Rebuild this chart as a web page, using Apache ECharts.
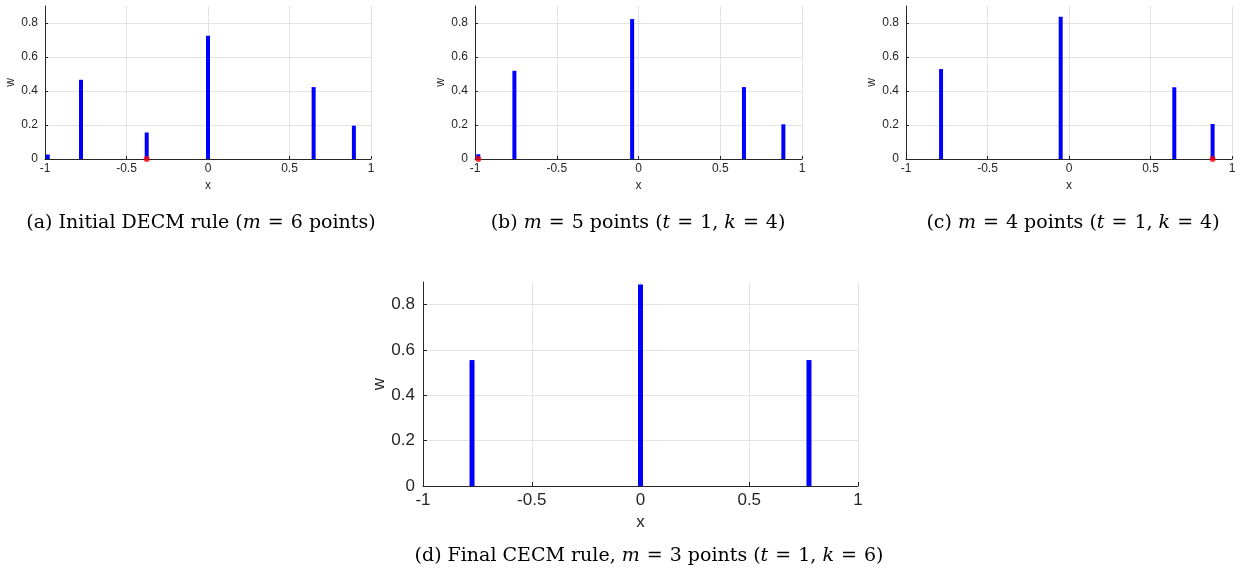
<!DOCTYPE html>
<html>
<head>
<meta charset="utf-8">
<script src="https://cdn.jsdelivr.net/npm/echarts@6/dist/echarts.min.js"></script>
<style>
html,body{margin:0;padding:0;background:#fff;}
#chart{width:1244px;height:571px;}
</style>
</head>
<body>
<div id="chart"></div>
<script>
// Panel (a): initial DECM rule, 6 points
const xA = [-0.983, -0.779, -0.376, 0.0, 0.648, 0.895];
const wA = [0.026, 0.466, 0.156, 0.725, 0.423, 0.196];
const redA = [-0.376];
// Panel (b): 5 points
const xB = [-0.98, -0.759, -0.039, 0.645, 0.886];
const wB = [0.028, 0.519, 0.823, 0.423, 0.204];
const redB = [-0.98];
// Panel (c): 4 points
const xC = [-0.785, -0.051, 0.646, 0.881];
const wC = [0.529, 0.837, 0.422, 0.206];
const redC = [0.881];
// Panel (d): final CECM rule, 3 points
const xD = [-0.7746, 0.0, 0.7746];
const wD = [0.5556, 0.8889, 0.5556];

const xTicks = [-1, -0.5, 0, 0.5, 1];
const yTicks = [0, 0.2, 0.4, 0.6, 0.8];

const pair = (xs, ws) => xs.map((x, i) => [x, ws[i]]);

const grids = [
  {left: 45, top: 6, width: 326, height: 153},
  {left: 475, top: 6, width: 327, height: 153},
  {left: 906, top: 6, width: 326, height: 153},
  {left: 423, top: 282, width: 435, height: 204}
];

const axisColor = '#262626';
const gridColor = '#e3e3e3';
const sansFont = 'Liberation Sans, Arial, Helvetica, sans-serif';
function xAxis(i, big) {
  return {
    type: 'value', gridIndex: i, min: -1, max: 1, interval: 0.5,
    name: 'x', nameLocation: 'middle', nameGap: big ? 28 : 21,
    nameTextStyle: {fontFamily: sansFont, fontSize: big ? 17 : 12, color: axisColor},
    axisLine: {show: true, onZero: false, lineStyle: {color: axisColor, width: 1}},
    axisTick: {show: true, inside: true, length: big ? 4 : 3, lineStyle: {color: axisColor}},
    axisLabel: {fontFamily: sansFont, fontSize: big ? 17 : 12, color: axisColor, margin: big ? 6 : 4,
      formatter: v => String(v)},
    splitLine: {show: true, lineStyle: {color: gridColor, width: 1}}
  };
}
function yAxis(i, big) {
  return {
    type: 'value', gridIndex: i, min: 0, max: 0.9, interval: 0.2,
    name: 'w', nameLocation: 'middle', nameGap: big ? 35 : 28, nameRotate: 90,
    nameTextStyle: {fontFamily: sansFont, fontSize: big ? 17 : 12, color: axisColor},
    axisLine: {show: true, onZero: false, lineStyle: {color: axisColor, width: 1}},
    axisTick: {show: true, inside: true, length: big ? 4 : 3, lineStyle: {color: axisColor}},
    axisLabel: {fontFamily: sansFont, fontSize: big ? 17 : 12, color: axisColor, margin: big ? 8 : 7,
      showMaxLabel: false, formatter: v => (Math.abs(v - 0.9) < 1e-6 ? '' : String(v))},
    splitLine: {show: true, showMaxLine: false, lineStyle: {color: gridColor, width: 1}}
  };
}

function bars(i, xs, ws, big) {
  return {
    type: 'bar', xAxisIndex: i, yAxisIndex: i, data: pair(xs, ws),
    barWidth: big ? 5 : 4, itemStyle: {color: '#0000ff'}, silent: true, clip: false
  };
}
function reds(i, xs) {
  return {
    type: 'scatter', xAxisIndex: i, yAxisIndex: i, data: xs.map(x => [x, 0]),
    symbol: 'circle', symbolSize: 6, itemStyle: {color: '#ff0000'}, clip: false, z: 5, silent: true
  };
}

const capFont = 'DejaVu Serif';
const capSize = 19;
const rich = {
  n: {fontFamily: capFont, fontSize: capSize, color: '#000'},
  i: {fontFamily: capFont, fontSize: capSize, fontStyle: 'italic', color: '#000'},
  e: {fontFamily: capFont, fontSize: capSize, color: '#000', padding: [0, 1]}
};
function caption(x, y, text) {
  return {text: text, left: x, top: y, textAlign: 'center',
    textStyle: {rich: rich, fontFamily: capFont, fontSize: capSize, fontWeight: 'normal', color: '#000'}};
}

const option = {
  animation: false,
  backgroundColor: '#fff',
  title: [
    caption(196, 209, '{n|(a) Initial DECM rule (}{i|m}{e| = }{n|6 points)}'),
    caption(633, 209, '{n|(b) }{i|m}{e| = }{n|5 points (}{i|t}{e| = }{n|1, }{i|k}{e| = }{n|4)}'),
    caption(1068, 209, '{n|(c) }{i|m}{e| = }{n|4 points (}{i|t}{e| = }{n|1, }{i|k}{e| = }{n|4)}'),
    caption(644, 542, '{n|(d) Final CECM rule, }{i|m}{e| = }{n|3 points (}{i|t}{e| = }{n|1, }{i|k}{e| = }{n|6)}')
  ],
  grid: grids,
  xAxis: [xAxis(0, false), xAxis(1, false), xAxis(2, false), xAxis(3, true)],
  yAxis: [yAxis(0, false), yAxis(1, false), yAxis(2, false), yAxis(3, true)],
  series: [
    bars(0, xA, wA, false), reds(0, redA),
    bars(1, xB, wB, false), reds(1, redB),
    bars(2, xC, wC, false), reds(2, redC),
    bars(3, xD, wD, true)
  ]
};

const chart = echarts.init(document.getElementById('chart'), null, {renderer: 'canvas'});
chart.setOption(option);
</script>
</body>
</html>
